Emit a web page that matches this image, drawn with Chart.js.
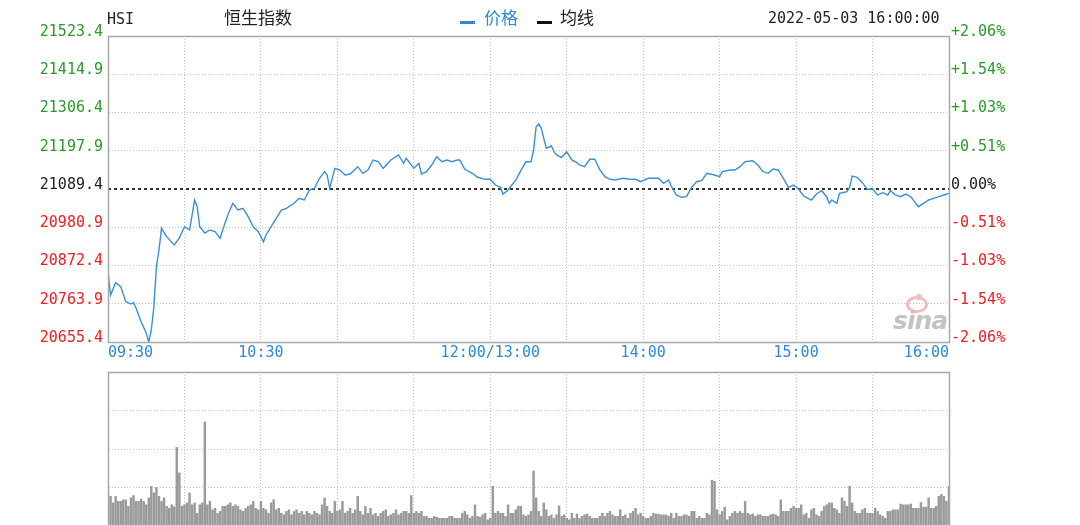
<!DOCTYPE html>
<html><head><meta charset="utf-8">
<script src="https://cdn.jsdelivr.net/npm/chart.js@4.4.1/dist/chart.umd.min.js"></script>
<style>
html,body{margin:0;padding:0;background:#fff;width:1080px;height:525px;overflow:hidden;position:relative;}
.t{position:absolute;white-space:nowrap;line-height:1;}
.mono{font-family:"DejaVu Sans Mono",monospace;font-size:15px;color:#222;}
.cjk{font-family:"Noto Sans CJK SC",sans-serif;font-size:17px;}
.bar{position:absolute;height:3px;width:15px;}
canvas{position:absolute;left:0;}
#sina{position:absolute;left:892px;top:294px;width:60px;height:40px;opacity:0.6;}
</style></head><body>
<canvas id="price" width="1080" height="365" style="top:0"></canvas>
<canvas id="vol" width="1080" height="165" style="top:365px"></canvas>

<div class="t mono" style="left:107px;top:12px;">HSI</div>
<div class="t cjk" style="left:224px;top:8px;color:#222;">恒生指数</div>
<div class="bar" style="left:460px;top:21px;background:#2f8ad6;"></div>
<div class="t cjk" style="left:484px;top:8px;color:#2f8ad6;">价格</div>
<div class="bar" style="left:537px;top:21px;background:#111;"></div>
<div class="t cjk" style="left:560px;top:8px;color:#222;">均线</div>
<div class="t mono" style="left:768px;top:11px;">2022-05-03 16:00:00</div>
<div id="sina">
  <div style="position:absolute;left:14px;top:2px;width:16px;height:11px;border-radius:50%;border:3px solid #ec8f8f;"></div>
  <div style="position:absolute;left:24px;top:0px;width:6px;height:6px;border-radius:50%;background:#ec8f8f;"></div>
  <div style="position:absolute;left:1px;top:12px;font:italic bold 25px 'DejaVu Sans',sans-serif;color:#9c9c9c;letter-spacing:-1px;">sina</div>
</div>

<script>
// ---- data ----
const prevClose = 21089.4;
const priceTickLabels = ['21523.4','21414.9','21306.4','21197.9','21089.4','20980.9','20872.4','20763.9','20655.4'];
const pctTickLabels   = ['+2.06%','+1.54%','+1.03%','+0.51%','0.00%','-0.51%','-1.03%','-1.54%','-2.06%'];
const timeTickMinutes = [0, 60, 150, 210, 270, 330];
const timeTickLabels  = ['09:30','10:30','12:00/13:00','14:00','15:00','16:00'];

// minutes since 09:30 (lunch break removed)
const priceMinutes = [
  0,1,3,5,7,9,10,11,12,13,
  15,16,17,18,19,20,21,23,26,28,
  30,32,34,35,36,38,40,42,44,45,
  47,49,51,53,55,57,59,61,62,64,
  66,68,70,73,75,77,79,81,83,85,
  86,87,89,91,93,95,98,100,102,104,
  106,108,111,114,116,117,120,122,123,125,
  127,129,131,133,135,137,138,140,143,145,
  148,150,152,154,155,157,160,162,164,166,
  167,168,169,170,172,174,175,176,178,180,
  182,184,185,187,189,191,193,195,197,199,
  202,204,207,209,212,216,218,220,221,223,
  225,227,229,231,233,235,238,240,241,244,
  246,248,250,253,255,257,259,261,263,265,
  267,269,271,273,274,276,278,280,282,283,
  284,286,287,290,291,292,294,296,298,300,
  302,304,306,307,309,311,313,315,318,320,
  322,324,326,328,330
];
const priceValues = [
  20854.8,20788.7,20823.6,20812.2,20769.7,20763.1,20766.8,20751.8,20731.9,20712.9,
  20680.9,20655.4,20689.4,20755.5,20869.0,20916.4,20977.9,20954.1,20930.5,20950.4,
  20982.4,20973.1,21058.2,21039.2,20982.4,20964.6,20973.1,20968.3,20949.5,20973.1,
  21015.6,21048.8,21029.8,21034.6,21010.8,20982.4,20968.3,20939.9,20958.9,20982.4,
  21006.3,21029.8,21034.6,21048.8,21063.0,21058.2,21086.6,21091.4,21119.8,21138.5,
  21129.1,21091.4,21148.1,21143.3,21129.1,21132.0,21152.7,21133.9,21143.3,21171.7,
  21166.9,21148.1,21171.7,21185.9,21162.3,21176.5,21148.1,21162.3,21132.0,21138.5,
  21157.5,21181.0,21166.9,21171.7,21166.9,21171.7,21171.7,21145.3,21133.9,21122.6,
  21116.9,21116.9,21100.7,21094.2,21075.2,21086.6,21114.9,21141.3,21166.9,21166.9,
  21200.0,21266.1,21273.8,21261.6,21204.9,21211.4,21195.2,21185.9,21179.3,21195.2,
  21171.7,21164.0,21157.5,21152.7,21173.7,21173.7,21143.3,21124.3,21116.9,21114.9,
  21119.8,21117.8,21116.9,21110.1,21119.8,21119.8,21105.6,21114.9,21097.9,21072.4,
  21065.9,21067.6,21094.2,21110.1,21113.5,21133.9,21129.1,21124.3,21138.5,21143.3,
  21143.3,21152.7,21166.9,21169.7,21157.5,21138.5,21133.9,21146.1,21143.3,21119.8,
  21094.2,21100.7,21088.5,21069.5,21065.9,21058.2,21075.2,21084.6,21067.6,21048.8,
  21058.2,21048.8,21077.2,21081.7,21094.2,21126.3,21122.6,21107.3,21088.5,21088.5,
  21072.4,21078.9,21072.4,21084.6,21072.4,21067.6,21075.2,21067.6,21039.2,21048.8,
  21058.2,21063.0,21067.6,21072.4,21077.2
];

// per-minute volume (arbitrary units, one grid step = 100), minute 0..330
const volumeValues = [
  90,77,60,77,64,64,68,68,51,73,
  79,64,64,70,64,55,73,103,86,100,
  77,64,73,51,46,55,50,204,138,51,
  55,60,86,55,60,33,55,60,270,55,
  64,42,46,33,38,51,51,55,60,51,
  55,51,42,38,46,51,55,64,46,42,
  64,46,42,33,60,68,42,46,33,29,
  38,42,29,38,42,33,38,29,38,33,
  29,38,33,29,55,73,51,38,33,64,
  38,42,64,33,38,46,33,42,77,38,
  29,51,33,46,29,33,25,33,38,42,
  25,29,33,42,29,33,38,38,33,79,
  33,38,33,38,25,25,20,20,25,23,
  20,20,20,20,25,25,20,20,20,33,
  38,29,20,25,55,25,23,29,33,16,
  20,103,33,38,33,33,25,55,33,33,
  42,51,51,29,25,29,38,143,73,38,
  25,60,42,25,29,20,29,52,25,29,
  20,16,33,20,31,20,25,29,31,25,
  20,20,20,25,33,25,33,38,29,25,
  25,42,25,29,20,33,38,46,29,33,
  25,20,20,25,33,31,31,29,29,29,
  25,33,20,33,25,25,29,29,25,38,
  38,20,25,20,20,33,29,119,116,42,
  29,38,49,16,25,33,38,33,38,33,
  64,33,29,31,25,29,29,25,25,25,
  29,31,29,25,68,38,38,38,46,51,
  46,46,55,29,33,20,42,46,29,25,
  38,51,55,60,60,46,42,33,73,64,
  51,103,60,38,33,33,42,46,33,33,
  33,46,38,29,25,20,38,38,42,42,
  42,57,55,55,55,57,46,46,46,61,
  49,49,73,46,46,51,77,82,77,64,
  103
];

// ---- styling ----
const GREEN = '#2a9a2a', RED = '#f02020', BLACK = '#222', BLUE = '#2f8ad6';
const GRID = '#c4c4c4', FRAME = '#a8a8a8';
const MONO = 'DejaVu Sans Mono';
const tickValues = priceTickLabels.map(Number);
function tickColor(v) { return Math.abs(v - prevClose) < 0.05 ? BLACK : (v > prevClose ? GREEN : RED); }

const framePlugin = {
  id: 'frame',
  afterDraw(chart) {
    const a = chart.chartArea, ctx = chart.ctx;
    ctx.save(); ctx.strokeStyle = FRAME; ctx.lineWidth = 1.5;
    ctx.strokeRect(Math.round(a.left)+0.5, Math.round(a.top)+0.5, Math.round(a.right-a.left), Math.round(a.bottom-a.top));
    ctx.restore();
  }
};
const xLabelPlugin = {
  id: 'xLabels',
  afterDraw(chart) {
    const xs = chart.scales.x, ctx = chart.ctx;
    ctx.save(); ctx.font = '15px "' + MONO + '"'; ctx.fillStyle = BLUE; ctx.textBaseline = 'middle';
    timeTickMinutes.forEach((m, i) => {
      ctx.textAlign = i === 0 ? 'left' : (i === timeTickMinutes.length - 1 ? 'right' : 'center');
      ctx.fillText(timeTickLabels[i], xs.getPixelForValue(m), chart.chartArea.bottom + 11);
    });
    ctx.restore();
  }
};

const setTicks = scale => { scale.ticks = tickValues.map(v => ({ value: v })); };

new Chart(document.getElementById('price'), {
  type: 'line',
  data: {
    datasets: [
      { data: priceMinutes.map((m, i) => ({ x: m, y: priceValues[i] })),
        borderColor: '#3a8fd8', borderWidth: 1.4, pointRadius: 0, tension: 0, order: 0 },
      { data: [{ x: 0, y: prevClose }, { x: 330, y: prevClose }],
        borderColor: '#333', borderWidth: 2, borderDash: [3, 3], pointRadius: 0, order: 1 }
    ]
  },
  options: {
    responsive: false, animation: false, devicePixelRatio: 1,
    layout: { padding: { top: 36, left: 0, right: 0, bottom: 0 } },
    plugins: { legend: { display: false }, tooltip: { enabled: false } },
    scales: {
      x: { type: 'linear', min: 0, max: 330,
        ticks: { display: false, stepSize: 30 },
        grid: { color: GRID, drawTicks: false },
        border: { color: FRAME, dash: [1, 2] },
        afterFit: s => { s.height = 23; } },
      y: { position: 'left', min: 20655.4, max: 21523.4,
        afterBuildTicks: setTicks,
        afterFit: s => { s.width = 108; },
        ticks: { autoSkip: false, padding: 5, labelOffset: -4,
          font: { family: MONO, size: 15 },
          color: c => tickColor(c.tick.value),
          callback: (v, i) => priceTickLabels[i] },
        grid: { color: c => Math.abs(c.tick.value - prevClose) < 0.05 ? 'rgba(0,0,0,0)' : GRID, drawTicks: false },
        border: { color: FRAME, dash: [1, 2] } },
      y2: { position: 'right', min: 20655.4, max: 21523.4,
        afterBuildTicks: setTicks,
        afterFit: s => { s.width = 131; },
        ticks: { autoSkip: false, padding: 2, labelOffset: -4,
          font: { family: MONO, size: 15 },
          color: c => tickColor(c.tick.value),
          callback: (v, i) => pctTickLabels[i] },
        grid: { display: false, drawTicks: false },
        border: { color: FRAME } }
    }
  },
  plugins: [framePlugin, xLabelPlugin]
});

new Chart(document.getElementById('vol'), {
  type: 'bar',
  data: {
    datasets: [{ data: volumeValues.map((v, i) => ({ x: i, y: v })),
      backgroundColor: '#9a9a9a', barThickness: 1.8 }]
  },
  options: {
    responsive: false, animation: false, devicePixelRatio: 1,
    layout: { padding: { top: 7, left: 0, right: 131, bottom: 0 } },
    plugins: { legend: { display: false }, tooltip: { enabled: false } },
    scales: {
      x: { type: 'linear', min: 0, max: 330, offset: false,
        ticks: { display: false, stepSize: 30 },
        grid: { color: GRID, drawTicks: false, offset: false },
        border: { color: FRAME, dash: [1, 2] },
        afterFit: s => { s.height = 4; } },
      y: { min: 0, max: 400,
        ticks: { display: false, stepSize: 100 },
        afterFit: s => { s.width = 108; },
        grid: { color: GRID, drawTicks: false },
        border: { color: FRAME, dash: [1, 2] } }
    }
  },
  plugins: [framePlugin]
});
</script>
</body></html>
